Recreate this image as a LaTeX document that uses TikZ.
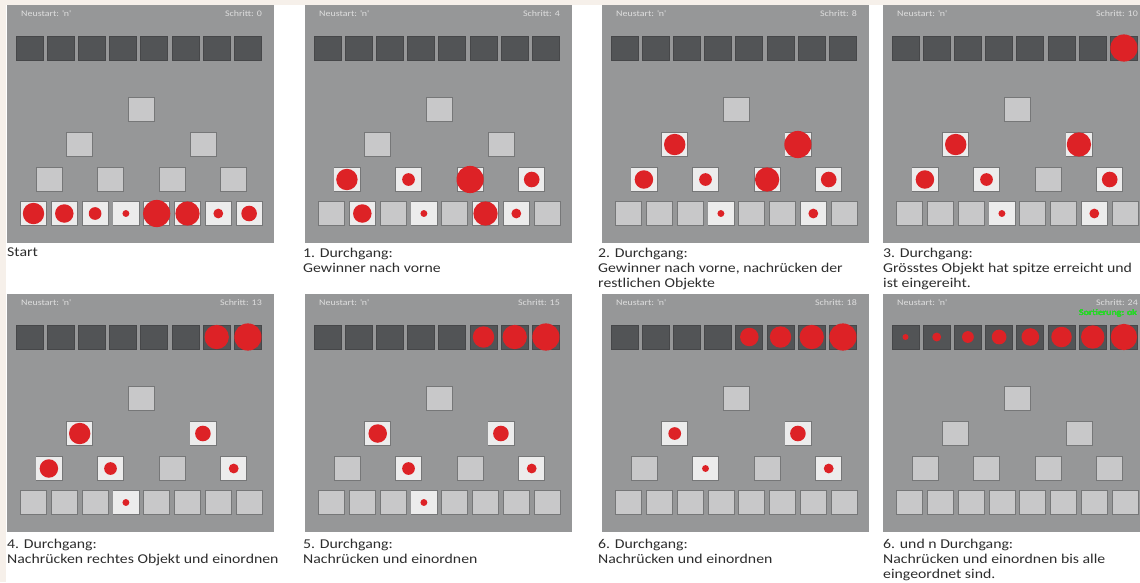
\documentclass[tikz,border=0pt]{standalone}
\usepackage{fontspec}
\setmainfont{Carlito}[FakeStretch=1.17]
\usetikzlibrary{calc}

\definecolor{paper}{RGB}{246,240,234}
\definecolor{screengray}{RGB}{150,151,152}
\definecolor{slotdark}{RGB}{82,84,86}
\definecolor{slotedge}{RGB}{118,119,120}
\definecolor{slotlight}{RGB}{200,200,201}
\definecolor{slotfull}{RGB}{236,236,236}
\definecolor{ballred}{RGB}{221,34,38}
\definecolor{hdrgray}{RGB}{222,222,222}
\definecolor{okgreen}{RGB}{40,215,40}
\definecolor{capgray}{RGB}{45,45,45}

\tikzset{
  screen/.style={fill=screengray},
  darkslot/.style={draw=slotdark!85!black, fill=slotdark, line width=0.8pt,
    minimum width=27pt, minimum height=24pt, inner sep=0pt},
  slot/.style={draw=slotedge, fill=slotlight, line width=0.8pt,
    minimum width=26pt, minimum height=24pt, inner sep=0pt},
  hdr/.style={font=\fontsize{8.5}{10}\selectfont, text=hdrgray, inner sep=0pt},
  caption/.style={font=\fontsize{13.5}{15}\selectfont, text=capgray,
    align=left, anchor=north west, inner sep=0pt},
  ball/.style={fill=ballred},
}

% one screen: name, x, y, Schritt
\newcommand{\screen}[4]{%
  \begin{scope}[shift={(#2,#3)}]
    \fill[screen] (0,0) rectangle (267,238);
    \node[hdr, anchor=west] (#1-neu) at (14,9) {Neustart: \textquotesingle n\textquotesingle};
    \node[hdr, anchor=east] (#1-step) at (255,9) {Schritt: #4};
    \foreach \i in {0,...,7} {
      \node[darkslot] (#1-d\i) at (22.5+31.2*\i,43) {};
      \node[slot] (#1-b\i) at (26.5+30.8*\i,208.5) {};
    }
    \foreach \i in {0,...,3}
      \node[slot] (#1-t3\i) at (41.9+61.6*\i,174.5) {};
    \node[slot] (#1-t20) at (72.7,139.5) {};
    \node[slot] (#1-t21) at (195.9,139.5) {};
    \node[slot] (#1-t1) at (134.3,104) {};
  \end{scope}}

% object of size #2 in a light slot
\newcommand{\ball}[2]{%
  \fill[slotfull] ([shift={(0.8pt,0.8pt)}]#1.south west) rectangle ([shift={(-0.8pt,-0.8pt)}]#1.north east);
  \fill[ball] (#1) circle[radius={(2+1.45*#2)*1pt}];}
% object of size #2 already sorted in
\newcommand{\sorted}[2]{%
  \fill[ball] (#1) circle[radius={(2+1.45*#2)*1pt}];}

\begin{document}
\begin{tikzpicture}[x=1pt, y=-1pt]
  \useasboundingbox (0,0) rectangle (1140,582);
  \clip (0,0) rectangle (1140,582);
  \fill[paper] (0,0) rectangle (1140,5);
  \fill[paper] (0,0) rectangle (6,582);

  % Start
  \screen{p1}{7}{5}{0}
  \ball{p1-b0}{6} \ball{p1-b1}{5} \ball{p1-b2}{3} \ball{p1-b3}{1}
  \ball{p1-b4}{8} \ball{p1-b5}{7} \ball{p1-b6}{2} \ball{p1-b7}{4}
  \node[caption] (cap1) at (7,248) {Start};

  % 1. Durchgang
  \screen{p2}{305}{5}{4}
  \ball{p2-t30}{6} \ball{p2-t31}{3} \ball{p2-t32}{8} \ball{p2-t33}{4}
  \ball{p2-b1}{5} \ball{p2-b3}{1} \ball{p2-b5}{7} \ball{p2-b6}{2}
  \node[caption] (cap2) at (303,248) {1. Durchgang:\\Gewinner nach vorne};

  % 2. Durchgang
  \screen{p3}{602}{5}{8}
  \ball{p3-t20}{6} \ball{p3-t21}{8}
  \ball{p3-t30}{5} \ball{p3-t31}{3} \ball{p3-t32}{7} \ball{p3-t33}{4}
  \ball{p3-b3}{1} \ball{p3-b6}{2}
  \node[caption] (cap3) at (598,248) {2. Durchgang:\\Gewinner nach vorne, nachrücken der\\restlichen Objekte};

  % 3. Durchgang
  \screen{p4}{883}{5}{10}
  \sorted{p4-d7}{8}
  \ball{p4-t20}{6} \ball{p4-t21}{7}
  \ball{p4-t30}{5} \ball{p4-t31}{3} \ball{p4-t33}{4}
  \ball{p4-b3}{1} \ball{p4-b6}{2}
  \node[caption] (cap4) at (883,248) {3. Durchgang:\\Grösstes Objekt hat spitze erreicht und\\ist eingereiht.};

  % 4. Durchgang
  \screen{p5}{7}{294}{13}
  \sorted{p5-d6}{7} \sorted{p5-d7}{8}
  \ball{p5-t20}{6} \ball{p5-t21}{4}
  \ball{p5-t30}{5} \ball{p5-t31}{3} \ball{p5-t33}{2}
  \ball{p5-b3}{1}
  \node[caption] (cap5) at (7,539) {4. Durchgang:\\Nachrücken rechtes Objekt und einordnen};

  % 5. Durchgang
  \screen{p6}{305}{294}{15}
  \sorted{p6-d5}{6} \sorted{p6-d6}{7} \sorted{p6-d7}{8}
  \ball{p6-t20}{5} \ball{p6-t21}{4}
  \ball{p6-t31}{3} \ball{p6-t33}{2}
  \ball{p6-b3}{1}
  \node[caption] (cap6) at (303,539) {5. Durchgang:\\Nachrücken und einordnen};

  % 6. Durchgang
  \screen{p7}{602}{294}{18}
  \sorted{p7-d4}{5} \sorted{p7-d5}{6} \sorted{p7-d6}{7} \sorted{p7-d7}{8}
  \ball{p7-t20}{3} \ball{p7-t21}{4}
  \ball{p7-t31}{1} \ball{p7-t33}{2}
  \node[caption] (cap7) at (598,539) {6. Durchgang:\\Nachrücken und einordnen};

  % 6. und n Durchgang
  \screen{p8}{883}{294}{24}
  \foreach \i in {0,...,7}
    \sorted{p8-d\i}{\i+1}
  \node[hdr, anchor=west, text=okgreen] (p8-ok) at (1079,313) {Sortierung: ok};
  \node[caption] (cap8) at (883,539) {6. und n Durchgang:\\Nachrücken und einordnen bis alle\\eingeordnet sind.};
\end{tikzpicture}
\end{document}
